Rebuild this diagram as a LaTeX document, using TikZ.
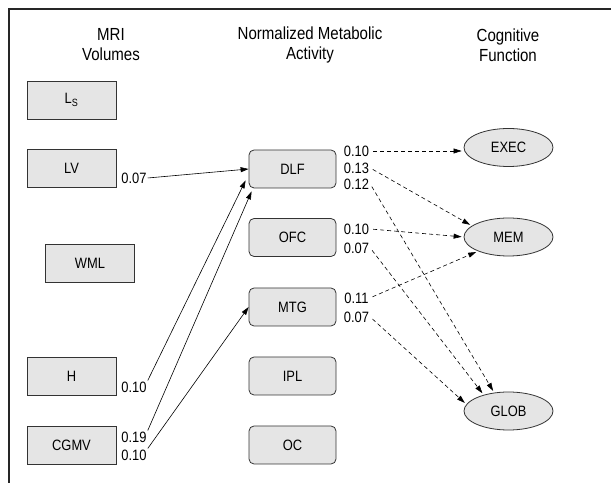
\documentclass[tikz,border=0pt]{standalone}
\usepackage{fontspec}
\setmainfont{Liberation Sans}[FakeStretch=0.86]
\usetikzlibrary{shapes.geometric,arrows.meta,calc}

\begin{document}
\begin{tikzpicture}
[
x=1bp, y=1bp,
vnode/.style={draw=black!80, fill=black!10, line width=0.8bp, minimum width=89bp, minimum height=38bp, inner sep=0, font=\fontsize{15bp}{18bp}\selectfont},
mnode/.style={vnode, rounded corners=5bp, minimum width=87bp},
fnode/.style={vnode, ellipse},
wnode/.style={inner sep=1bp, font=\fontsize{15bp}{18bp}\selectfont},
hdr/.style={align=center, font=\fontsize{17.5bp}{20bp}\selectfont},
solidarr/.style={-{Triangle[length=8bp,width=5bp]}, line width=0.6bp},
dasharr/.style={solidarr, dash pattern=on 4bp off 3bp, shorten <=3bp, shorten >=2bp}
]
\useasboundingbox (0,0) rectangle (611,483);
\draw[line width=1.2bp, black!85] (9,0) -- (9,474) -- (611,474);

\node[hdr] (tMRI) at (111,438) {MRI\\Volumes};
\node[hdr] (tNMA) at (310,438) {Normalized Metabolic\\Activity};
\node[hdr] (tCF)  at (508,438) {Cognitive\\Function};

\node[vnode] (Ls)   at (71.5,383)   {L\textsubscript{S}};
\node[vnode] (LV)   at (71.5,314.5) {LV};
\node[vnode] (WML)  at (90,219.5)   {WML};
\node[vnode] (H)    at (71.5,106.5) {H};
\node[vnode] (CGMV) at (71.5,38)    {CGMV};

\node[mnode] (DLF) at (292.5,314)   {DLF};
\node[mnode] (OFC) at (292.5,245.5) {OFC};
\node[mnode] (MTG) at (292.5,176)   {MTG};
\node[mnode] (IPL) at (292.5,107)   {IPL};
\node[mnode] (OC)  at (292.5,38)    {OC};

\node[fnode] (EXEC) at (508.5,335.5) {EXEC};
\node[fnode] (MEM)  at (508.5,246)   {MEM};
\node[fnode] (GLOB) at (508.5,72)    {GLOB};

\node[wnode] (wLV)   at (134,305) {0.07};
\node[wnode] (wH)    at (134,96)  {0.10};
\node[wnode] (wCGa)  at (134,46)  {0.19};
\node[wnode] (wCGb)  at (134,28)  {0.10};
\node[wnode] (wDLFa) at (356.5,332) {0.10};
\node[wnode] (wDLFb) at (356.5,315) {0.13};
\node[wnode] (wDLFc) at (356.5,299) {0.12};
\node[wnode] (wOFCa) at (356.5,254) {0.10};
\node[wnode] (wOFCb) at (356.5,235) {0.07};
\node[wnode] (wMTGa) at (356.5,185) {0.11};
\node[wnode] (wMTGb) at (356.5,166) {0.07};

% MRI volumes -> metabolic activity
\draw[solidarr] (wLV.east) -- (DLF.west);
\draw[solidarr] (wH.north east) -- ($(DLF.south west)+(-3,8)$);
\draw[solidarr] (wCGa.north east) -- ($(DLF.south west)+(3,-3)$);
\draw[solidarr] (wCGb.north east) -- (MTG.west);

% metabolic activity -> cognitive function
\draw[dasharr] (wDLFa.east) -- (wDLFa.east -| EXEC.west);
\draw[dasharr] (wDLFb.east) -- (MEM.163);
\draw[dasharr] (wDLFc.east) -- (GLOB.128);
\draw[dasharr] (wOFCa.east) -- (MEM.west);
\draw[dasharr] (wOFCb.east) -- (GLOB.147);
\draw[dasharr] (wMTGa.east) -- (MEM.205);
\draw[dasharr] (wMTGb.east) -- (GLOB.171);
\end{tikzpicture}
\end{document}
